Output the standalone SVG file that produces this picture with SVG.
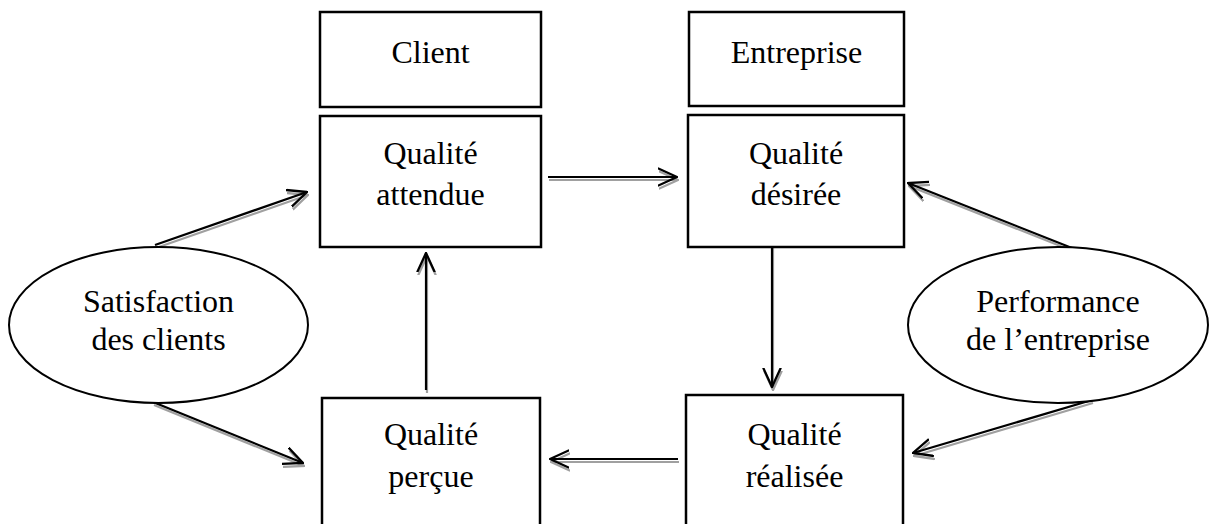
<svg xmlns="http://www.w3.org/2000/svg" xmlns:xlink="http://www.w3.org/1999/xlink" width="1214" height="524" viewBox="0 0 1214 524">
  <style>
    .box { fill: #fff; stroke: #000; stroke-width: 2.5; }
    .oval { fill: #fff; stroke: #000; stroke-width: 2; }
    .lbl { font-size: 32px; fill: #000; text-anchor: middle; }
    .ln { fill: none; stroke: #000; stroke-width: 2.2; marker-end: url(#headK); }
    .sh { fill: none; stroke: #a0a0a0; stroke-width: 2.2; marker-end: url(#headG); }
  </style>
  <defs>
    <marker id="headK" viewBox="0 0 10 10" refX="9.6" refY="5" markerUnits="userSpaceOnUse" markerWidth="20" markerHeight="20" orient="auto">
      <path d="M0,0.6 L9.6,5 L0,9.4" fill="none" stroke="#000" stroke-width="1.15"/>
    </marker>
    <marker id="headG" viewBox="0 0 10 10" refX="9.6" refY="5" markerUnits="userSpaceOnUse" markerWidth="20" markerHeight="20" orient="auto">
      <path d="M0,0.6 L9.6,5 L0,9.4" fill="none" stroke="#a0a0a0" stroke-width="1.15"/>
    </marker>
    <!-- connector geometry, drawn once in black and once as an offset grey shadow -->
    <path id="c1" d="M155,245 L307,192"/>
    <path id="c2" d="M153,402 L303,463"/>
    <path id="c3" d="M548,177 L677,177"/>
    <path id="c4" d="M772,243 L772,387"/>
    <path id="c5" d="M426,390 L426,253"/>
    <path id="c6" d="M678,459 L550,459"/>
    <path id="c7" d="M1077,250 L908,183"/>
    <path id="c8" d="M1092,400 L913,453"/>
  </defs>

  <g id="connectors">
    <g transform="translate(1,3)">
      <use xlink:href="#c1" class="sh"/>
      <use xlink:href="#c2" class="sh"/>
      <use xlink:href="#c3" class="sh"/>
      <use xlink:href="#c4" class="sh"/>
      <use xlink:href="#c5" class="sh"/>
      <use xlink:href="#c6" class="sh"/>
      <use xlink:href="#c7" class="sh"/>
      <use xlink:href="#c8" class="sh"/>
    </g>
    <use xlink:href="#c1" class="ln"/>
    <use xlink:href="#c2" class="ln"/>
    <use xlink:href="#c3" class="ln"/>
    <use xlink:href="#c4" class="ln"/>
    <use xlink:href="#c5" class="ln"/>
    <use xlink:href="#c6" class="ln"/>
    <use xlink:href="#c7" class="ln"/>
    <use xlink:href="#c8" class="ln"/>
  </g>

  <g font-family="'Liberation Serif', 'Times New Roman', serif">
    <g id="client">
      <rect class="box" x="320" y="12" width="221" height="95"/>
      <text class="lbl" x="430.5" y="63">Client</text>
    </g>
    <g id="entreprise">
      <rect class="box" x="689" y="12" width="215" height="94"/>
      <text class="lbl" x="796.5" y="63">Entreprise</text>
    </g>
    <g id="qualite-attendue">
      <rect class="box" x="320" y="116" width="221" height="131"/>
      <text class="lbl" x="430.5" y="164">Qualité</text>
      <text class="lbl" x="430.5" y="205">attendue</text>
    </g>
    <g id="qualite-desiree">
      <rect class="box" x="688" y="115" width="216" height="132"/>
      <text class="lbl" x="796" y="164">Qualité</text>
      <text class="lbl" x="796" y="205">désirée</text>
    </g>
    <g id="qualite-percue">
      <rect class="box" x="322" y="398" width="218" height="140"/>
      <text class="lbl" x="431" y="445">Qualité</text>
      <text class="lbl" x="431" y="487">perçue</text>
    </g>
    <g id="qualite-realisee">
      <rect class="box" x="686" y="395" width="217" height="144"/>
      <text class="lbl" x="794.5" y="445">Qualité</text>
      <text class="lbl" x="794.5" y="487">réalisée</text>
    </g>
    <g id="satisfaction">
      <ellipse class="oval" cx="158.5" cy="325" rx="149.5" ry="78"/>
      <text class="lbl" x="158.5" y="312">Satisfaction</text>
      <text class="lbl" x="158.5" y="350">des clients</text>
    </g>
    <g id="performance">
      <ellipse class="oval" cx="1058" cy="325" rx="150" ry="78"/>
      <text class="lbl" x="1058" y="312">Performance</text>
      <text class="lbl" x="1058" y="350">de l’entreprise</text>
    </g>
  </g>
</svg>
